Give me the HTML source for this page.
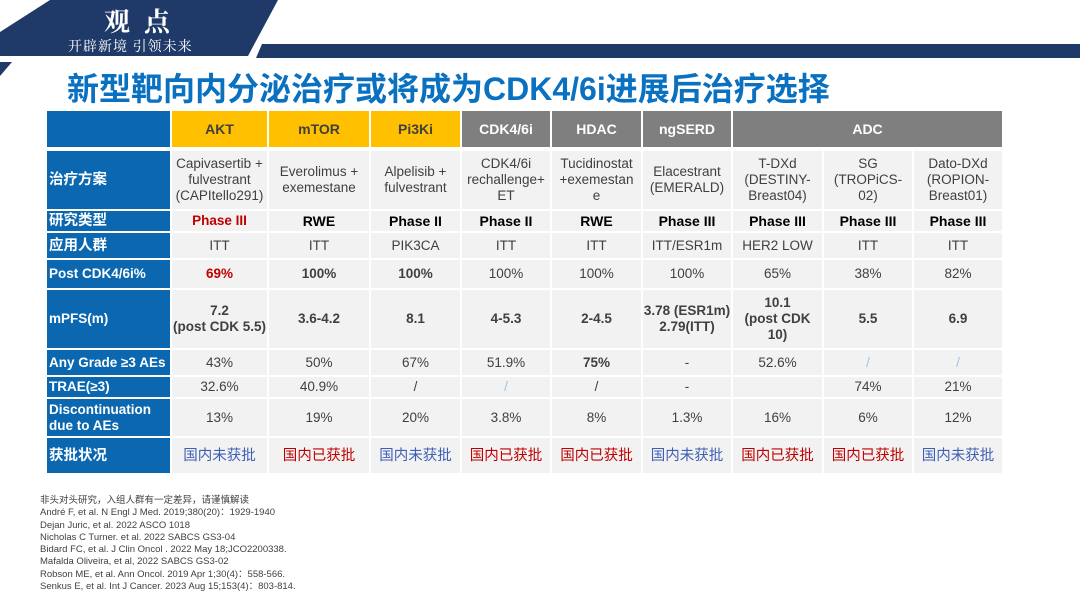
<!DOCTYPE html>
<html><head><meta charset="utf-8"><style>
*{margin:0;padding:0;box-sizing:border-box}
body{width:1080px;height:602px;background:#fff;position:relative;overflow:hidden;font-family:"Liberation Sans","Noto Sans CJK SC",sans-serif}
.c{position:absolute;display:flex;align-items:center;justify-content:center;text-align:center;font-size:13.5px;line-height:16px;color:#404040;background:#f2f2f2;white-space:nowrap}
.l{background:#0b68b0;color:#fff;font-weight:bold;justify-content:flex-start;text-align:left;padding-left:2px}
.y{background:#ffc000;color:#404040;font-weight:bold;font-size:14px}
.g{background:#7f7f7f;color:#fff;font-weight:bold;font-size:14px}
.b{font-weight:bold}
.k{color:#000;font-weight:bold;font-size:14px}
.r{color:#c00000}
.bl{color:#3f5fb5}
.lb{color:#9dc3e6}
.zh{font-size:14.5px}
.fn{position:absolute;left:40px;font-size:9.5px;color:#404040;line-height:12.3px}
</style></head><body>
<svg width="1080" height="80" style="position:absolute;left:0;top:0">
<polygon points="50,0 278,0 248,56 0,56 0,32" fill="#1f3a68"/>
<polygon points="262,44 1080,44 1080,58 256,58" fill="#1f3a68"/>
<polygon points="0,62 12,62 0,76" fill="#1f3a68"/>
</svg>
<div style="position:absolute;left:104px;top:2px;color:#fff;font-family:'Noto Serif CJK SC',serif;font-size:26px;font-weight:bold;letter-spacing:14px">观点</div>
<div style="position:absolute;left:68px;top:36px;color:#fff;font-family:'Noto Serif CJK SC',serif;font-size:14px;letter-spacing:1px">开辟新境 引领未来</div>
<div style="position:absolute;left:67px;top:64px;color:#0a70c0;font-size:32px;font-weight:bold;white-space:nowrap">新型靶向内分泌治疗或将成为CDK4/6i进展后治疗选择</div>
<div id="t"></div>
<script>
var xs=[46,171,268,370,461,551,642,732,823,913,1003];
var ys=[110,150,210,232,259,289,349,376,398,437,474];
var h=document.getElementById('t'),s='';
function cell(x1,x2,y1,y2,cls,txt){s+='<div class="c '+cls+'" style="left:'+(x1+1)+'px;top:'+(y1+1)+'px;width:'+(x2-x1-2)+'px;height:'+(y2-y1-2)+'px">'+txt+'</div>';}
cell(46,171,110,148,'l','');
var hd=[['AKT','y'],['mTOR','y'],['Pi3Ki','y'],['CDK4/6i','g'],['HDAC','g'],['ngSERD','g']];
for(var i=0;i<6;i++)cell(xs[i+1],xs[i+2],110,148,hd[i][1],hd[i][0]);
cell(732,1003,110,148,'g','ADC');
var labels=['<span class="zh">治疗方案</span>','<span class="zh">研究类型</span>','<span class="zh">应用人群</span>','Post CDK4/6i%','mPFS(m)','Any Grade ≥3 AEs','TRAE(≥3)','Discontinuation<br>due to AEs','<span class="zh">获批状况</span>'];
var data=[
[['Capivasertib +<br>fulvestrant<br>(CAPItello291)',''],['Everolimus +<br>exemestane',''],['Alpelisib +<br>fulvestrant',''],['CDK4/6i<br>rechallenge+<br>ET',''],['Tucidinostat<br>+exemestan<br>e',''],['Elacestrant<br>(EMERALD)',''],['T-DXd<br>(DESTINY-<br>Breast04)',''],['SG<br>(TROPiCS-<br>02)',''],['Dato-DXd<br>(ROPION-<br>Breast01)','']],
[['Phase III','b r'],['RWE','k'],['Phase II','k'],['Phase II','k'],['RWE','k'],['Phase III','k'],['Phase III','k'],['Phase III','k'],['Phase III','k']],
[['ITT',''],['ITT',''],['PIK3CA',''],['ITT',''],['ITT',''],['ITT/ESR1m',''],['HER2 LOW',''],['ITT',''],['ITT','']],
[['69%','b r'],['100%','b'],['100%','b'],['100%',''],['100%',''],['100%',''],['65%',''],['38%',''],['82%','']],
[['7.2<br>(post CDK 5.5)','b'],['3.6-4.2','b'],['8.1','b'],['4-5.3','b'],['2-4.5','b'],['3.78 (ESR1m)<br>2.79(ITT)','b'],['10.1<br>(post CDK<br>10)','b'],['5.5','b'],['6.9','b']],
[['43%',''],['50%',''],['67%',''],['51.9%',''],['75%','b'],['-',''],['52.6%',''],['/','lb'],['/','lb']],
[['32.6%',''],['40.9%',''],['/',''],['/','lb'],['/',''],['-',''],['',''],['74%',''],['21%','']],
[['13%',''],['19%',''],['20%',''],['3.8%',''],['8%',''],['1.3%',''],['16%',''],['6%',''],['12%','']],
[['国内未获批','bl zh'],['国内已获批','r zh'],['国内未获批','bl zh'],['国内已获批','r zh'],['国内已获批','r zh'],['国内未获批','bl zh'],['国内已获批','r zh'],['国内已获批','r zh'],['国内未获批','bl zh']]
];
for(var r=0;r<9;r++){cell(46,171,ys[r+1],ys[r+2],'l',labels[r]);for(var c=0;c<9;c++)cell(xs[c+1],xs[c+2],ys[r+1],ys[r+2],data[r][c][1],data[r][c][0]);}
h.innerHTML=s;
</script>
<div class="fn" style="top:495px">非头对头研究，入组人群有一定差异，请谨慎解读<br>André F, et al. N Engl J Med. 2019;380(20)：1929-1940<br>Dejan Juric, et al. 2022 ASCO 1018<br>Nicholas C Turner. et al. 2022 SABCS GS3-04<br>Bidard FC, et al. J Clin Oncol . 2022 May 18;JCO2200338.<br>Mafalda Oliveira, et al, 2022 SABCS GS3-02<br>Robson ME, et al. Ann Oncol. 2019 Apr 1;30(4)：558-566.<br>Senkus E, et al. Int J Cancer. 2023 Aug 15;153(4)：803-814.</div>
</body></html>
